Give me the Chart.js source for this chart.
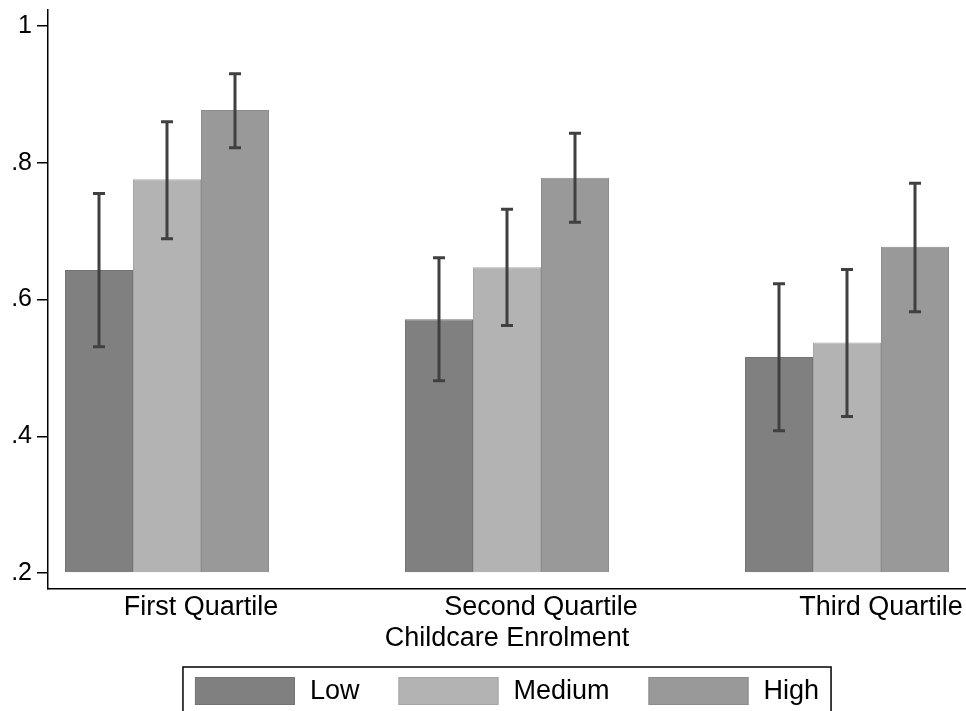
<!DOCTYPE html>
<html>
<head>
<meta charset="utf-8">
<script src="https://cdn.jsdelivr.net/npm/chart.js@4"></script>
<style>
  html, body { margin: 0; padding: 0; background: #fff; }
</style>
</head>
<body>
<canvas id="chart" width="966" height="711"></canvas>
<script>
// data
const categories = ["First Quartile", "Second Quartile", "Third Quartile"];
const seriesNames = ["Low", "Medium", "High"];
const lowMean = [0.643, 0.571, 0.516];
const lowLower = [0.531, 0.481, 0.408];
const lowUpper = [0.755, 0.661, 0.623];
const mediumMean = [0.776, 0.647, 0.537];
const mediumLower = [0.689, 0.562, 0.429];
const mediumUpper = [0.860, 0.732, 0.644];
const highMean = [0.877, 0.778, 0.677];
const highLower = [0.822, 0.713, 0.582];
const highUpper = [0.930, 0.843, 0.770];
const yTickValues = [0.2, 0.4, 0.6, 0.8, 1];
const yTickLabels = [".2", ".4", ".6", ".8", "1"];
const xTitle = "Childcare Enrolment";

const FONT = '"Liberation Sans", Arial, Helvetica, sans-serif';
const barBase = 0.2;
const barColors = ["#808080", "#b3b3b3", "#999999"];
const barEdges = ["#747474", "#a6a6a6", "#8c8c8c"];
const means = [lowMean, mediumMean, highMean];
const lowers = [lowLower, mediumLower, highLower];
const uppers = [lowUpper, mediumUpper, highUpper];

const datasets = seriesNames.map((name, s) => ({
  label: name,
  data: means[s].map((v, i) => ({ x: i, y: v })),
  lower: lowers[s],
  upper: uppers[s],
  backgroundColor: barColors[s],
  borderColor: barEdges[s],
  borderWidth: 1,
  base: barBase,
  categoryPercentage: 0.6,
  barPercentage: 1
}));

// whiskers with caps, placed with the chart's own bar elements and y scale
const errorBars = {
  id: "errorBars",
  afterDatasetsDraw(chart) {
    const ctx = chart.ctx;
    const y = chart.scales.y;
    ctx.save();
    ctx.strokeStyle = "#404040";
    ctx.lineWidth = 3;
    chart.data.datasets.forEach((ds, s) => {
      chart.getDatasetMeta(s).data.forEach((bar, i) => {
        const yTop = y.getPixelForValue(ds.upper[i]);
        const yBot = y.getPixelForValue(ds.lower[i]);
        ctx.beginPath();
        ctx.moveTo(bar.x, yTop);
        ctx.lineTo(bar.x, yBot);
        ctx.moveTo(bar.x - 6, yTop);
        ctx.lineTo(bar.x + 6, yTop);
        ctx.moveTo(bar.x - 6, yBot);
        ctx.lineTo(bar.x + 6, yBot);
        ctx.stroke();
      });
    });
    ctx.restore();
  }
};

// boxed legend under the axis title, centred on the plot
const legendBox = {
  id: "legendBox",
  afterDraw(chart) {
    const ctx = chart.ctx;
    const area = chart.chartArea;
    const swatchW = 100, swatchH = 28, textGap = 15, itemGap = 39, pad = 12;
    ctx.save();
    ctx.font = "27px " + FONT;
    const items = chart.data.datasets.map(ds => ({
      label: ds.label,
      fill: ds.backgroundColor,
      edge: ds.borderColor,
      w: ctx.measureText(ds.label).width
    }));
    let inner = itemGap * (items.length - 1);
    items.forEach(it => { inner += swatchW + textGap + it.w; });
    const boxW = inner + 2 * pad;
    const left = (area.left + area.right) / 2 - boxW / 2;
    const top = chart.height - 44;
    ctx.strokeStyle = "#000";
    ctx.lineWidth = 1.5;
    ctx.strokeRect(left, top, boxW, 80);
    let x = left + pad;
    const sy = top + 10;
    ctx.textBaseline = "middle";
    ctx.textAlign = "left";
    items.forEach(it => {
      ctx.fillStyle = it.fill;
      ctx.fillRect(x, sy, swatchW, swatchH);
      ctx.strokeStyle = it.edge;
      ctx.lineWidth = 1;
      ctx.strokeRect(x + 0.5, sy + 0.5, swatchW - 1, swatchH - 1);
      ctx.fillStyle = "#000";
      ctx.fillText(it.label, x + swatchW + textGap, sy + swatchH / 2 + 1);
      x += swatchW + textGap + it.w + itemGap;
    });
    ctx.restore();
  }
};

new Chart(document.getElementById("chart"), {
  type: "bar",
  data: { datasets: datasets },
  plugins: [errorBars, legendBox],
  options: {
    responsive: false,
    animation: false,
    layout: { padding: { top: 10, right: 0, bottom: 56, left: 0 } },
    plugins: {
      legend: { display: false },
      tooltip: { enabled: false }
    },
    scales: {
      x: {
        type: "linear",
        offset: false,
        min: -0.35,
        max: 2.35,
        grid: { display: false, drawTicks: false },
        border: { display: true, color: "#000", width: 1.5 },
        afterBuildTicks: s => { s.ticks = categories.map((c, i) => ({ value: i })); },
        afterFit: s => { s.height = 66; s.paddingLeft = 0; s.paddingRight = 0; },
        ticks: {
          color: "#000",
          font: { family: FONT, size: 27 },
          padding: 2,
          labelOffset: 34,
          autoSkip: false,
          maxRotation: 0,
          callback: v => categories[v]
        },
        title: {
          display: true,
          text: xTitle,
          color: "#000",
          font: { family: FONT, size: 27 },
          padding: { top: 0, bottom: 0 }
        }
      },
      y: {
        type: "linear",
        min: 0.1766,
        max: 1.0234,
        grid: { drawOnChartArea: false, drawTicks: true, tickLength: 11, color: "#000", lineWidth: 1.5 },
        border: { display: true, color: "#000", width: 1.5 },
        afterBuildTicks: s => { s.ticks = yTickValues.map(v => ({ value: v })); },
        afterFit: s => { s.width = 48; s.paddingTop = 0; s.paddingBottom = 0; },
        ticks: {
          color: "#000",
          font: { family: FONT, size: 25 },
          padding: 5,
          callback: v => yTickLabels[yTickValues.indexOf(v)]
        }
      }
    }
  }
});
</script>
</body>
</html>
